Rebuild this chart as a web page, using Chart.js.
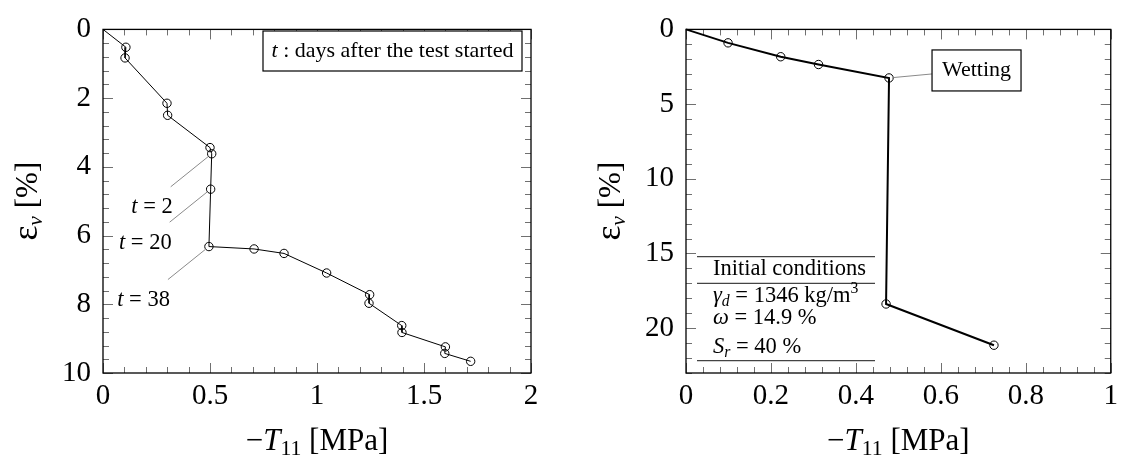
<!DOCTYPE html>
<html>
<head>
<meta charset="utf-8">
<script src="https://cdn.jsdelivr.net/npm/chart.js@4.4.1/dist/chart.umd.min.js"></script>
<style>
  html, body { margin: 0; padding: 0; background: #fff; }
  #wrap { position: relative; width: 1124px; height: 457px; }
  canvas { position: absolute; top: 0; }
  #c1 { left: 0; }
  #c2 { left: 560px; }
</style>
</head>
<body>
<div id="wrap">
  <canvas id="c1" width="560" height="457"></canvas>
  <canvas id="c2" width="564" height="457"></canvas>
</div>
<script>
// Left panel: suction path over time (−T11 in MPa vs volumetric strain in %)
const leftSuction = [0, 0.107, 0.103, 0.299, 0.302, 0.500, 0.508, 0.503, 0.495, 0.706, 0.846, 1.045, 1.246, 1.243, 1.396, 1.397, 1.600, 1.597, 1.718];
const leftStrain  = [0, 0.52, 0.83, 2.15, 2.50, 3.44, 3.62, 4.65, 6.32, 6.39, 6.52, 7.09, 7.72, 7.97, 8.62, 8.82, 9.24, 9.43, 9.66];
// Day markers pinned to points of the left path
const dayLabels = ['2', '20', '38'];
const dayPointIndex = [6, 7, 8];

// Right panel: loading, wetting, reloading
const rightSuction = [0, 0.099, 0.223, 0.312, 0.478, 0.471, 0.725];
const rightStrain  = [0, 0.90, 1.83, 2.35, 3.25, 18.38, 21.14];
const wettingPointIndex = 4;

// Axis ranges and tick spacing
const leftXTicks  = { min: 0, max: 2,  step: 0.1,  major: 0.5 };
const leftYTicks  = { min: 0, max: 10, step: 0.4,  major: 2 };
const rightXTicks = { min: 0, max: 1,  step: 0.04, major: 0.2 };
const rightYTicks = { min: 0, max: 23, step: 1,    major: 5 };

const SERIF = '"Liberation Serif", "Times New Roman", serif';

function isMajor(v, major) {
  const r = v / major;
  return Math.abs(r - Math.round(r)) < 1e-6;
}
function fmt(v) {
  return String(Math.round(v * 1000) / 1000);
}

// Draws a run of text pieces with optional italics / sub- and superscripts
function drawRich(ctx, parts, x, y, size, align) {
  let w = 0;
  const items = parts.map(p => {
    const s = size * (p.sc || 1);
    const font = (p.i ? 'italic ' : '') + s + 'px ' + SERIF;
    ctx.font = font;
    const m = ctx.measureText(p.t).width;
    w += m;
    return { t: p.t, font, m, dy: (p.dy || 0) * size };
  });
  let cx = align === 'center' ? x - w / 2 : align === 'right' ? x - w : x;
  ctx.textAlign = 'left';
  ctx.textBaseline = 'alphabetic';
  items.forEach(it => {
    ctx.font = it.font;
    ctx.fillText(it.t, cx, y + it.dy);
    cx += it.m;
  });
  return w;
}

// Inward ticks on all four sides plus the black frame
const frameTicks = {
  id: 'frameTicks',
  beforeDatasetsDraw(chart, args, o) {
    const { ctx, chartArea: a, scales: { x, y } } = chart;
    ctx.save();
    ctx.strokeStyle = '#707070';
    ctx.lineWidth = 1;
    ctx.beginPath();
    x.ticks.forEach(t => {
      const px = Math.round(x.getPixelForValue(t.value)) + 0.5;
      const len = isMajor(t.value, o.xMajor) ? 10 : 6;
      ctx.moveTo(px, a.bottom); ctx.lineTo(px, a.bottom - len);
      ctx.moveTo(px, a.top); ctx.lineTo(px, a.top + len);
    });
    y.ticks.forEach(t => {
      const py = Math.round(y.getPixelForValue(t.value)) + 0.5;
      const len = isMajor(t.value, o.yMajor) ? 10 : 6;
      ctx.moveTo(a.left, py); ctx.lineTo(a.left + len, py);
      ctx.moveTo(a.right, py); ctx.lineTo(a.right - len, py);
    });
    ctx.stroke();
    ctx.restore();
  },
  afterDraw(chart) {
    const { ctx, chartArea: a } = chart;
    ctx.save();
    ctx.strokeStyle = '#000';
    ctx.lineWidth = 1.3;
    ctx.strokeRect(a.left, a.top, a.width, a.height);
    // axis titles
    ctx.fillStyle = '#000';
    drawRich(ctx, [{ t: '\u2212' }, { t: 'T', i: 1 }, { t: '11', sc: 0.7, dy: 0.17 }, { t: ' [MPa]' }],
      (a.left + a.right) / 2, 450, 31, 'center');
    ctx.translate(a.left - 66, (a.top + a.bottom) / 2);
    ctx.rotate(-Math.PI / 2);
    drawRich(ctx, [{ t: '\u03b5', sc: 1.15 }, { t: 'v', i: 1, sc: 0.7, dy: 0.17 }, { t: ' [%]' }], 0, 0, 31, 'center');
    ctx.restore();
  }
};

function pinLine(ctx, from, to, r) {
  const dx = to.x - from.x, dy = to.y - from.y;
  const d = Math.hypot(dx, dy);
  ctx.beginPath();
  ctx.moveTo(from.x, from.y);
  ctx.lineTo(to.x - dx / d * r, to.y - dy / d * r);
  ctx.stroke();
}

const leftNotes = {
  id: 'leftNotes',
  afterDraw(chart) {
    const { ctx, chartArea: a, scales: { x, y } } = chart;
    ctx.save();
    // note box explaining t
    const bx = 263, by = 31, bw = 259, bh = 40;
    ctx.fillStyle = '#fff';
    ctx.fillRect(bx, by, bw, bh);
    ctx.strokeStyle = '#000';
    ctx.lineWidth = 1.2;
    ctx.strokeRect(bx, by, bw, bh);
    ctx.fillStyle = '#000';
    drawRich(ctx, [{ t: 't', i: 1 }, { t: ' : days after the test started' }], bx + bw / 2, by + 26, 22, 'center');
    // day pins
    ctx.strokeStyle = '#8a8a8a';
    ctx.lineWidth = 1;
    dayPointIndex.forEach((idx, k) => {
      const p = { x: x.getPixelForValue(leftSuction[idx]), y: y.getPixelForValue(leftStrain[idx]) };
      const c = { x: p.x - 41, y: p.y + 33 };
      pinLine(ctx, c, p, 4.5);
      drawRich(ctx, [{ t: 't', i: 1 }, { t: ' = ' + dayLabels[k] }], c.x + 2, c.y + 26.5, 22.5, 'right');
    });
    ctx.restore();
  }
};

const rightNotes = {
  id: 'rightNotes',
  afterDraw(chart) {
    const { ctx, chartArea: a, scales: { x, y } } = chart;
    ctx.save();
    // wetting pin and box
    const p = { x: x.getPixelForValue(rightSuction[wettingPointIndex]), y: y.getPixelForValue(rightStrain[wettingPointIndex]) };
    const bx = p.x + 43, by = p.y - 28, bw = 89, bh = 41;
    ctx.strokeStyle = '#8a8a8a';
    ctx.lineWidth = 1;
    pinLine(ctx, { x: bx, y: p.y - 4 }, p, 4.5);
    ctx.fillStyle = '#fff';
    ctx.fillRect(bx, by, bw, bh);
    ctx.strokeStyle = '#000';
    ctx.lineWidth = 1.2;
    ctx.strokeRect(bx, by, bw, bh);
    ctx.fillStyle = '#000';
    drawRich(ctx, [{ t: 'Wetting' }], bx + bw / 2, by + 26, 22, 'center');
    // initial conditions table
    const l = a.left + 11, r = a.left + 189, tx = a.left + 27;
    ctx.strokeStyle = '#444';
    ctx.lineWidth = 1.3;
    [256.7, 283.3, 360.7].forEach(yy => {
      ctx.beginPath(); ctx.moveTo(l, yy); ctx.lineTo(r, yy); ctx.stroke();
    });
    drawRich(ctx, [{ t: 'Initial conditions' }], tx, 275, 22.5, 'left');
    drawRich(ctx, [{ t: '\u03b3', i: 1 }, { t: 'd', i: 1, sc: 0.7, dy: 0.17 }, { t: ' = 1346 kg/m' }, { t: '3', sc: 0.7, dy: -0.38 }], tx, 302, 22.5, 'left');
    drawRich(ctx, [{ t: '\u03c9', i: 1 }, { t: ' = 14.9 %' }], tx, 324, 22.5, 'left');
    drawRich(ctx, [{ t: 'S', i: 1 }, { t: 'r', i: 1, sc: 0.7, dy: 0.17 }, { t: ' = 40 %' }], tx, 353, 22.5, 'left');
    ctx.restore();
  }
};

function makeConfig(xs, ys, xt, yt, lineWidth, yWidth, padRight, extra) {
  const pts = xs.map((v, i) => ({ x: v, y: ys[i] }));
  const radii = xs.map((v, i) => (i === 0 ? 0 : 4.2));
  const tickFont = { family: SERIF, size: 29 };
  return {
    type: 'scatter',
    data: {
      datasets: [{
        data: pts,
        showLine: true,
        borderColor: '#000',
        borderWidth: lineWidth,
        tension: 0,
        pointRadius: radii,
        pointBorderColor: '#000',
        pointBackgroundColor: 'rgba(0,0,0,0)',
        pointBorderWidth: 1,
        clip: false
      }]
    },
    options: {
      responsive: false,
      animation: false,
      devicePixelRatio: 1,
      layout: { padding: { top: 17, right: padRight, left: 0, bottom: 0 } },
      plugins: {
        legend: { display: false },
        tooltip: { enabled: false },
        frameTicks: { xMajor: xt.major, yMajor: yt.major }
      },
      scales: {
        x: {
          type: 'linear', min: xt.min, max: xt.max,
          grid: { display: false, drawTicks: false },
          border: { display: false },
          ticks: {
            stepSize: xt.step, autoSkip: false, maxRotation: 0, padding: 6,
            color: '#000', font: tickFont,
            callback: v => (isMajor(v, xt.major) ? fmt(v) : '')
          },
          afterFit: s => { s.height = 84; }
        },
        y: {
          type: 'linear', reverse: true, min: yt.min, max: yt.max,
          grid: { display: false, drawTicks: false },
          border: { display: false },
          ticks: {
            stepSize: yt.step, autoSkip: false, padding: 12,
            color: '#000', font: tickFont,
            callback: v => (isMajor(v, yt.major) ? fmt(v) : '')
          },
          afterFit: s => { s.width = yWidth; }
        }
      }
    },
    plugins: [frameTicks, extra]
  };
}

new Chart(document.getElementById('c1'),
  makeConfig(leftSuction, leftStrain, leftXTicks, leftYTicks, 1, 103, 29, leftNotes));
new Chart(document.getElementById('c2'),
  makeConfig(rightSuction, rightStrain, rightXTicks, rightYTicks, 2, 126, 11, rightNotes));
</script>
</body>
</html>
